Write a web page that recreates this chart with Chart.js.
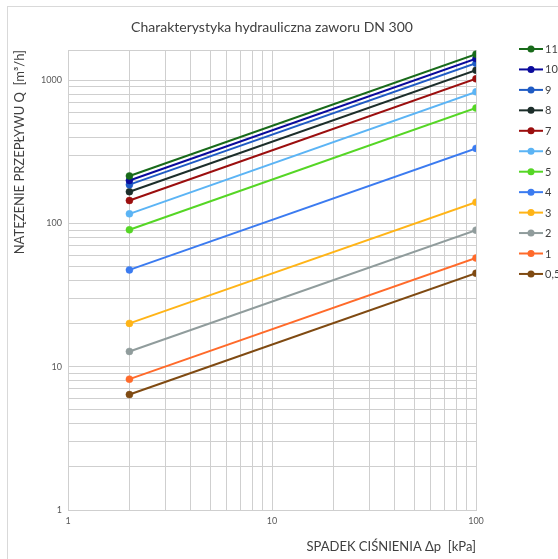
<!DOCTYPE html>
<html><head><meta charset="utf-8">
<script src="https://cdn.jsdelivr.net/npm/chart.js@4.4.0/dist/chart.umd.min.js"></script>
<style>
html,body{margin:0;padding:0;background:#fff;overflow:hidden;}
#wrap{position:relative;width:558px;height:559px;overflow:hidden;}
#frame{position:absolute;left:7px;top:6px;width:600px;height:600px;border:1px solid #d9d9d9;pointer-events:none;}
canvas{position:absolute;left:0;top:0;}
</style></head><body>
<div id="wrap"><canvas id="c" width="558" height="559"></canvas><div id="frame"></div></div>
<script>
const pressureDrop = [2, 100];
const seriesLabels = ['11', '10', '9', '8', '7', '6', '5', '4', '3', '2', '1', '0,5'];
const flowAt2kPa = [215, 200, 187, 167, 145, 117, 90.5, 47.5, 20.1, 12.8, 8.2, 6.4];
const flowAt100kPa = [1525, 1420, 1318, 1178, 1026, 832, 641, 335, 141, 90, 57.5, 45];
const seriesColors = ['#186A1A', '#0A0A9C', '#1F5BC4', '#1C2E2A', '#9B0E0E', '#5BB4F5', '#55D625', '#3B7BF0', '#FFB417', '#909C9C', '#FF6A2A', '#7F4A12'];
const xTickValues = [1, 2, 3, 4, 5, 6, 7, 8, 9, 10, 20, 30, 40, 50, 60, 70, 80, 90, 100];
const yTickValues = [1, 2, 3, 4, 5, 6, 7, 8, 9, 10, 20, 30, 40, 50, 60, 70, 80, 90, 100, 200, 300, 400, 500, 600, 700, 800, 900, 1000];
const majorTickLabels = [1, 10, 100, 1000];
const yAxisMax = 1630;

const FONT = 'Lato, "Open Sans", sans-serif';
const GRID = '#cfcfcf';

const datasets = seriesLabels.map((lab, i) => ({
  label: lab,
  data: pressureDrop.map((x, j) => ({ x: x, y: j === 0 ? flowAt2kPa[i] : flowAt100kPa[i] })),
  borderColor: seriesColors[i],
  backgroundColor: seriesColors[i],
  pointBackgroundColor: seriesColors[i],
  pointBorderColor: seriesColors[i],
  borderWidth: 2,
  pointRadius: 3.5,
  pointBorderWidth: 0.5,
  pointHoverRadius: 3.5,
  showLine: true,
  tension: 0
}));

const sideLegend = {
  id: 'sideLegend',
  afterDraw(chart) {
    const ctx = chart.ctx;
    const x0 = chart.chartArea.right + 43, lineW = 24, y0 = 49, step = 20.45;
    ctx.save();
    ctx.font = '11px ' + FONT;
    ctx.textBaseline = 'middle';
    ctx.textAlign = 'left';
    chart.data.datasets.forEach((ds, i) => {
      const y = y0 + i * step;
      ctx.strokeStyle = ds.borderColor;
      ctx.lineWidth = 2;
      ctx.beginPath(); ctx.moveTo(x0, y); ctx.lineTo(x0 + lineW, y); ctx.stroke();
      ctx.fillStyle = ds.borderColor;
      ctx.beginPath(); ctx.arc(x0 + lineW / 2, y, 3.5, 0, Math.PI * 2); ctx.fill();
      ctx.fillStyle = '#404040';
      ctx.fillText(ds.label, x0 + lineW + 2, y + 0.5);
    });
    ctx.restore();
  }
};

new Chart(document.getElementById('c'), {
  type: 'scatter',
  data: { datasets: datasets },
  plugins: [sideLegend],
  options: {
    responsive: false,
    animation: false,
    layout: { padding: { left: 0, right: 82, top: 0, bottom: 0 } },
    plugins: {
      legend: { display: false },
      tooltip: { enabled: false },
      title: {
        display: true,
        fullSize: false,
        text: 'Charakterystyka hydrauliczna zaworu DN 300',
        color: '#404040',
        font: { size: 14, weight: 'normal', family: FONT },
        padding: { top: 18.6, bottom: 14.6 }
      }
    },
    scales: {
      x: {
        type: 'logarithmic', min: 1, max: 100,
        afterBuildTicks: s => { s.ticks = xTickValues.map(v => ({ value: v })); },
        afterFit: s => { s.height = 49; },
        ticks: {
          autoSkip: false, maxRotation: 0, padding: 6, color: '#595959',
          font: { size: 9, family: FONT },
          callback: v => majorTickLabels.includes(v) ? String(v) : ''
        },
        grid: { color: GRID, lineWidth: 1, drawTicks: false },
        border: { color: GRID },
        title: {
          display: true, text: 'SPADEK CIŚNIENIA Δp  [kPa]', align: 'end', color: '#404040',
          font: { size: 13, family: FONT }, padding: { top: 0, bottom: 4 }
        }
      },
      y: {
        type: 'logarithmic', min: 1, max: yAxisMax,
        afterBuildTicks: s => { s.ticks = yTickValues.concat([yAxisMax]).map(v => ({ value: v })); },
        afterFit: s => { s.width = 68; },
        ticks: {
          autoSkip: false, padding: 6, color: '#595959',
          font: { size: 9, family: FONT },
          callback: v => majorTickLabels.includes(v) ? String(v) : ''
        },
        grid: { color: GRID, lineWidth: 1, drawTicks: false },
        border: { color: GRID },
        title: {
          display: true, text: 'NATĘZENIE PRZEPŁYWU Q  [m³/h]', align: 'end', color: '#404040',
          font: { size: 13, family: FONT }, padding: { top: 12, bottom: 0 }
        }
      }
    }
  }
});
</script>
</body></html>
